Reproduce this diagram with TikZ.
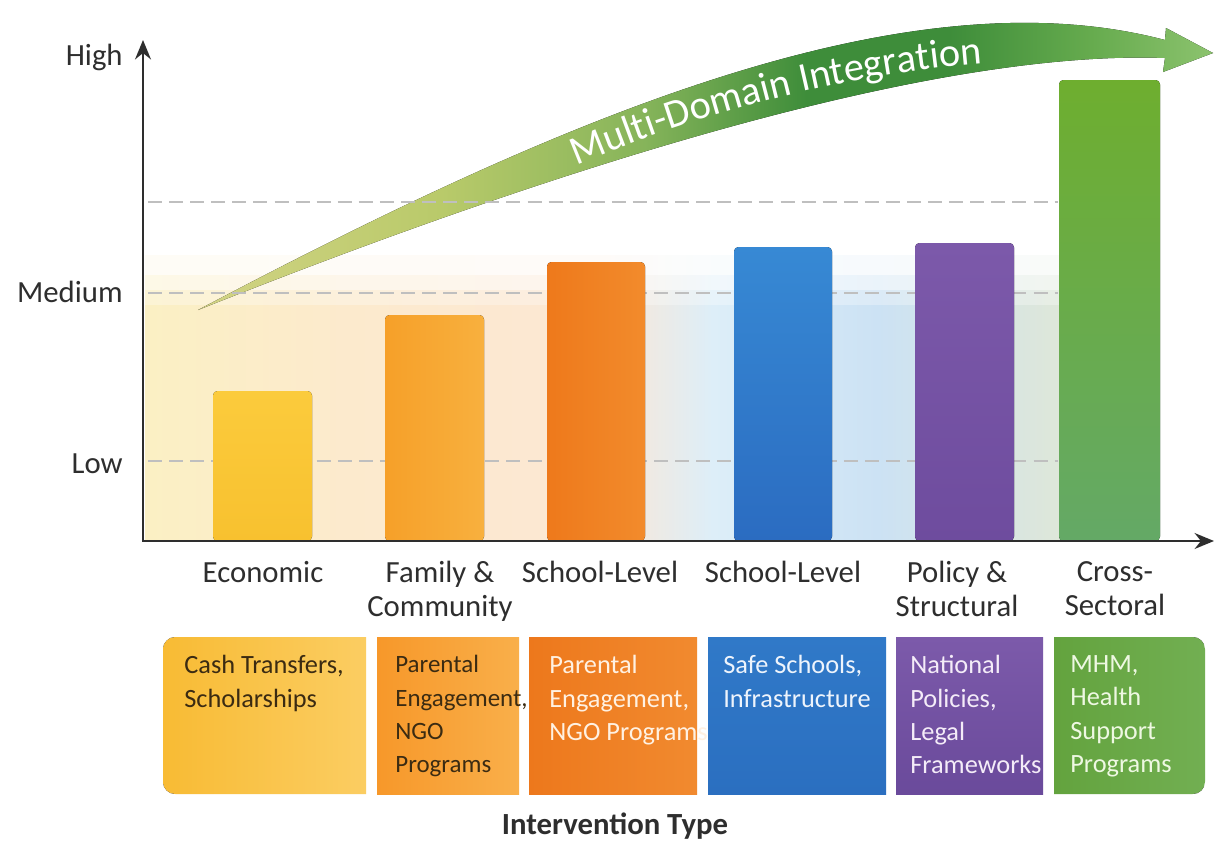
\documentclass[tikz,border=0pt]{standalone}
\usepackage{fontspec}
\setmainfont{Carlito}
\usetikzlibrary{arrows.meta, decorations.text}

\definecolor{axisgray}{HTML}{2E2E2E}
\definecolor{darktext}{HTML}{3B2B12}
\definecolor{bar1T}{HTML}{FBCB3C}\definecolor{bar1B}{HTML}{F8C12F}
\definecolor{bar2L}{HTML}{F6A029}\definecolor{bar2R}{HTML}{F8B03E}
\definecolor{bar3L}{HTML}{EE791B}\definecolor{bar3R}{HTML}{F28B2C}
\definecolor{bar4T}{HTML}{3789D4}\definecolor{bar4B}{HTML}{2B6CC1}
\definecolor{bar5T}{HTML}{7C59AA}\definecolor{bar5B}{HTML}{6E4C9E}
\definecolor{bar6T}{HTML}{6EAE2F}\definecolor{bar6B}{HTML}{64A966}
\definecolor{box1L}{HTML}{F8BB34}\definecolor{box1R}{HTML}{FBCD62}
\definecolor{box2L}{HTML}{F7982A}\definecolor{box2R}{HTML}{F9AF4A}
\definecolor{box3L}{HTML}{ED781C}\definecolor{box3R}{HTML}{F18A2F}
\definecolor{box4T}{HTML}{3079C8}\definecolor{box4B}{HTML}{2B6FC0}
\definecolor{box5T}{HTML}{7C5AAA}\definecolor{box5B}{HTML}{6A4A9B}
\definecolor{box6L}{HTML}{63A33E}\definecolor{box6R}{HTML}{72AF52}
\definecolor{txt3}{HTML}{FFF1E2}
\definecolor{txt4}{HTML}{EEF4FC}
\definecolor{txt5}{HTML}{F4ECF8}
\definecolor{txt6}{HTML}{EEF8E2}
\definecolor{bandA}{HTML}{D2D384}
\definecolor{bandB}{HTML}{B9CA6A}
\definecolor{bandC}{HTML}{86B45A}
\definecolor{bandD}{HTML}{3E8D3A}
\definecolor{bandE}{HTML}{66AB4E}
\definecolor{bandF}{HTML}{8CC36E}
\definecolor{washA}{HTML}{FBF0C4}
\definecolor{washB}{HTML}{FCEACD}
\definecolor{washC}{HTML}{FCE7D4}
\definecolor{washD}{HTML}{DDEEF8}
\definecolor{washE}{HTML}{CCE2F4}
\definecolor{washF}{HTML}{DEE7D9}

\pgfdeclarehorizontalshading{bandshade}{100bp}{color(0bp)=(bandA); color(25bp)=(bandA); color(37bp)=(bandB); color(47bp)=(bandC); color(55bp)=(bandD); color(62bp)=(bandD); color(69bp)=(bandE); color(75bp)=(bandF); color(100bp)=(bandF)}
\pgfdeclarehorizontalshading{washshade}{100bp}{color(0bp)=(washA); color(25bp)=(washA); color(36bp)=(washB); color(50bp)=(washC); color(56bp)=(washD); color(65bp)=(washE); color(75bp)=(washF); color(100bp)=(washF)}

\begin{document}
\begin{tikzpicture}[x = 0.02cm, y = -0.02cm,
    axis/.style = {line width = 1.6pt, draw = axisgray, line join = miter, {Stealth[length = 11pt, width = 9pt]}-{Stealth[length = 11pt, width = 9pt]}},
    guide/.style = {draw = black!25, line width = 0.9pt, dash pattern = on 8pt off 4pt},
    bar/.style = {rounded corners = 2.5pt},
    lvl/.style = {anchor = base east, inner sep = 0pt, text = axisgray, font = \fontsize{17.5}{21}\selectfont},
    cat/.style = {anchor = north, inner sep = 0pt, align = center, text = axisgray, font = \fontsize{17.5}{19.4}\selectfont},
    boxtext/.style = {anchor = north west, inner sep = 0pt, align = left, font = \fontsize{15}{19}\selectfont}]
    \fill[white] (0,0) rectangle (1215,842);
    \useasboundingbox (0,0) rectangle (1215,842);

    \fill[shading = washshade] (145,255) rectangle (1060,539);
    \fill[white, opacity = 0.85] (145,255) rectangle (1060,275);
    \fill[white, opacity = 0.6] (145,275) rectangle (1060,290);
    \fill[white, opacity = 0.3] (145,290) rectangle (1060,305);

    \fill[shading = bandshade] (198,310) .. controls (548,125) and (900,-30) .. (1165,40)
        -- (1166,28) -- (1213,53) -- (1163,72) -- (1165,58)
        .. controls (950,50) and (600,150) .. (198,310) -- cycle;
    \path[decorate, decoration = {text along path, text align = center, text color = white,
        text = {|\fontsize{23}{26}\selectfont|Multi-Domain Integration}}]
        (560,172) .. controls (700,112) and (850,72) .. (1000,62);

    \draw[guide] (148,202) -- (1058,202);
    \draw[guide] (148,293) -- (1058,293);
    \draw[guide] (148,461) -- (1058,461);

    \fill[bar, top color = bar1T, bottom color = bar1B] (213,541) rectangle (312,391);
    \fill[bar, left color = bar2L, right color = bar2R] (385,541) rectangle (484,315);
    \fill[bar, left color = bar3L, right color = bar3R] (547,541) rectangle (645,262);
    \fill[bar, top color = bar4T, bottom color = bar4B] (734,541) rectangle (832,247);
    \fill[bar, top color = bar5T, bottom color = bar5B] (915,541) rectangle (1014,243);
    \fill[bar, top color = bar6T, bottom color = bar6B] (1059,541) rectangle (1160,80);

    \coordinate (O) at (143,541);
    \coordinate (yEnd) at (143,40);
    \coordinate (xEnd) at (1214,541);
    \draw[axis] (yEnd) -- (O) -- (xEnd);

    \node[lvl] (hiLbl) at (123,65) {High};
    \node[lvl] (medLbl) at (123,302) {Medium};
    \node[lvl] (lowLbl) at (123,473) {Low};

    \node[cat] (catEcon) at (263,561) {Economic};
    \node[cat] (catFam) at (440,561) {Family \&\\Community};
    \node[cat] (catSchA) at (600,561) {School-Level};
    \node[cat] (catSchB) at (783,561) {School-Level};
    \node[cat] (catPol) at (957,561) {Policy \&\\Structural};
    \node[cat] (catCross) at (1115,561) {Cross-\\Sectoral};

    \begin{scope}
        \clip[rounded corners = 7pt] (163,637) rectangle (420,794);
        \fill[left color = box1L, right color = box1R] (163,637) rectangle (366,794);
    \end{scope}
    \node[boxtext, text = darktext] (txtEcon) at (184,655) {Cash Transfers,\\Scholarships};
    \fill[left color = box2L, right color = box2R] (377,637) rectangle (519,794);
    \node[boxtext, text = darktext, font = \fontsize{14.2}{19}\selectfont] (txtFam) at (395,655) {Parental\\Engagement,\\NGO\\Programs};
    \fill[left color = box3L, right color = box3R] (529,637) rectangle (697,794);
    \node[boxtext, text = txt3] (txtSchA) at (549,655) {Parental\\Engagement,\\NGO Programs};
    \fill[top color = box4T, bottom color = box4B] (708,637) rectangle (886,794);
    \node[boxtext, text = txt4] (txtSchB) at (723,655) {Safe Schools,\\Infrastructure};
    \fill[top color = box5T, bottom color = box5B] (896,637) rectangle (1043,794);
    \node[boxtext, text = txt5] (txtPol) at (910,655) {National\\Policies,\\Legal\\Frameworks};
    \begin{scope}
        \clip[rounded corners = 7pt] (1000,637) rectangle (1205,794);
        \fill[left color = box6L, right color = box6R] (1054,637) rectangle (1205,794);
    \end{scope}
    \node[boxtext, text = txt6] (txtCross) at (1070,655) {MHM,\\Health\\Support\\Programs};

    \node[anchor = base, inner sep = 0pt, text = axisgray, font = \fontsize{17.5}{21}\selectfont\bfseries] (xTitle) at (615,834) {Intervention Type};
\end{tikzpicture}
\end{document}
